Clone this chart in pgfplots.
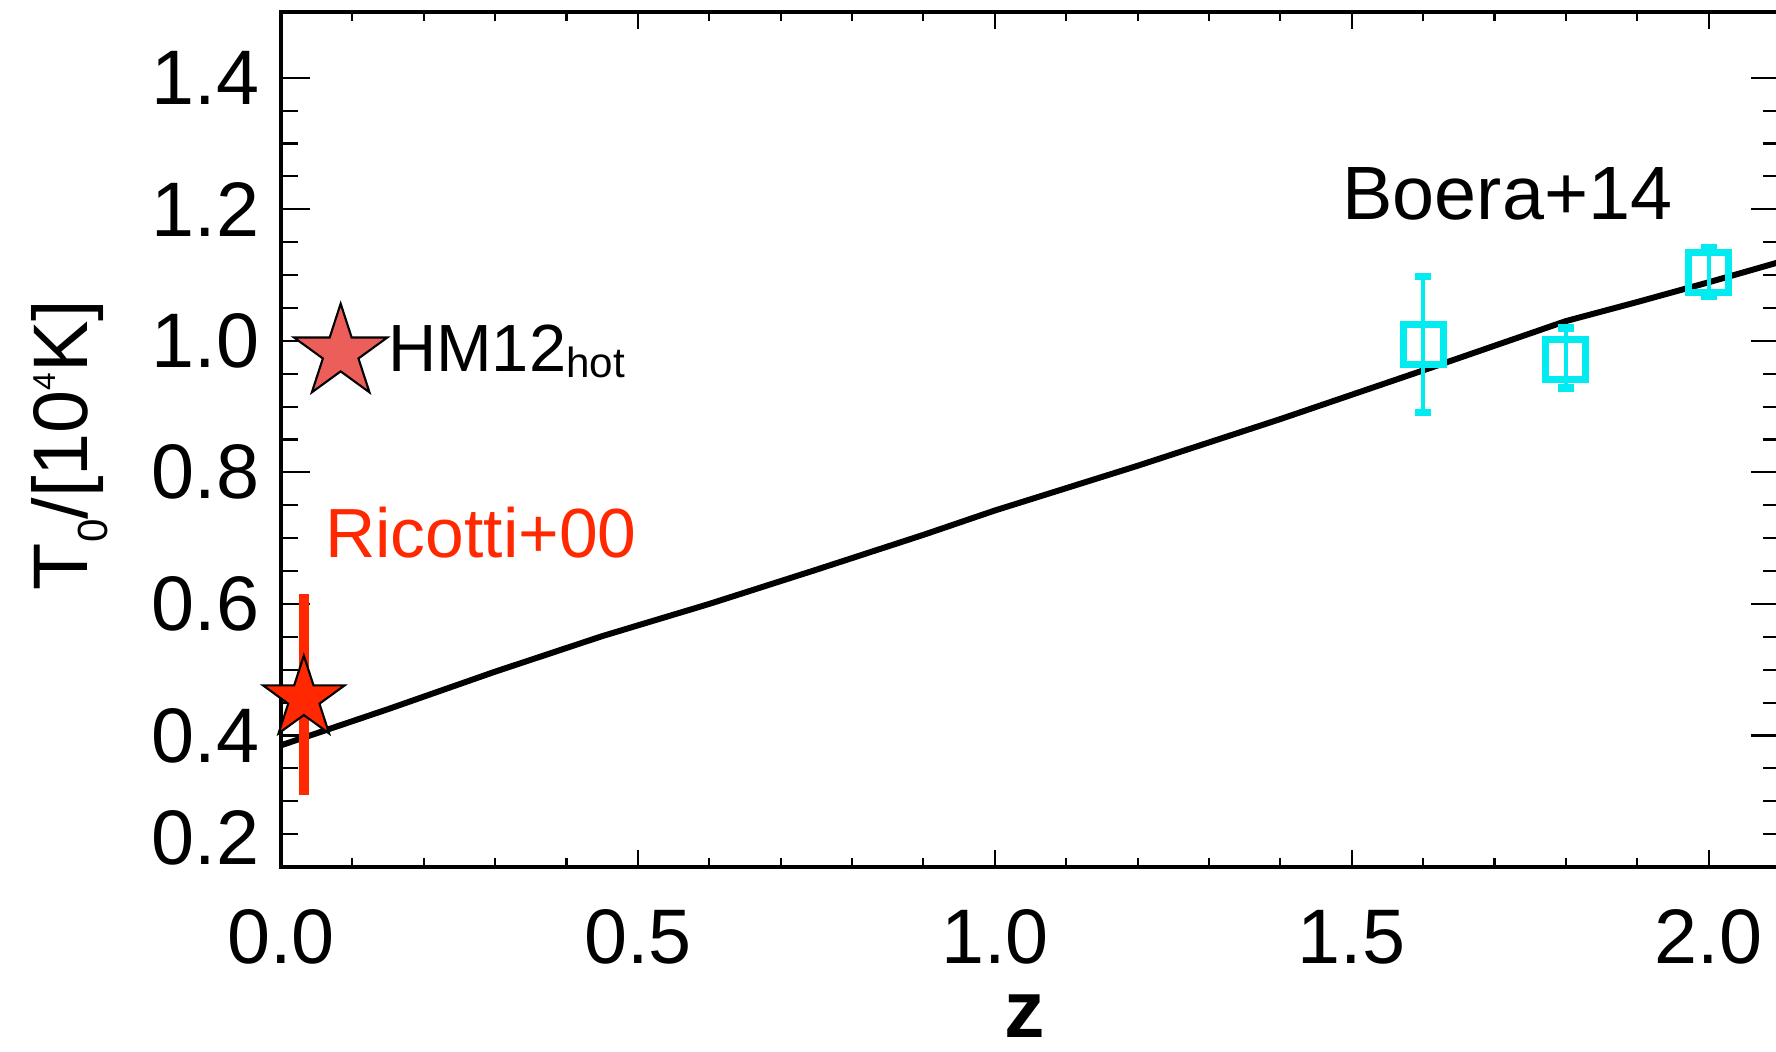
\documentclass[border=0pt]{standalone}
\usepackage{fontspec}
\setmainfont{Liberation Sans}
\usepackage{pgfplots}
\pgfplotsset{compat=1.18}

\definecolor{ricred}{RGB}{255,40,0}
\definecolor{hmred}{RGB}{235,94,90}
\definecolor{boecyan}{RGB}{0,236,240}

% filled five-pointed star, outer radius = mark size
\pgfdeclareplotmark{fstar}{%
  \pgfpathmoveto{\pgfpointpolar{90}{\pgfplotmarksize}}%
  \pgfpathlineto{\pgfpointpolar{126}{0.382\pgfplotmarksize}}%
  \pgfpathlineto{\pgfpointpolar{162}{\pgfplotmarksize}}%
  \pgfpathlineto{\pgfpointpolar{198}{0.382\pgfplotmarksize}}%
  \pgfpathlineto{\pgfpointpolar{234}{\pgfplotmarksize}}%
  \pgfpathlineto{\pgfpointpolar{270}{0.382\pgfplotmarksize}}%
  \pgfpathlineto{\pgfpointpolar{306}{\pgfplotmarksize}}%
  \pgfpathlineto{\pgfpointpolar{342}{0.382\pgfplotmarksize}}%
  \pgfpathlineto{\pgfpointpolar{18}{\pgfplotmarksize}}%
  \pgfpathlineto{\pgfpointpolar{54}{0.382\pgfplotmarksize}}%
  \pgfpathclose
  \pgfusepathqfillstroke
}

\begin{document}
\begin{tikzpicture}
\useasboundingbox (-2.81,-1.85) rectangle (14.95,8.67);
\clip (-2.81,-1.85) rectangle (14.95,8.67);
\begin{axis}[
  at={(0,0)}, anchor=south west,
  width=14.99cm, height=8.55cm, scale only axis,
  xmin=0, xmax=2.1, ymin=0.2, ymax=1.5,
  xtick={0,0.5,1,1.5,2},
  xticklabels={0.0,0.5,1.0,1.5,2.0},
  minor x tick num=4,
  ytick={0.2,0.4,0.6,0.8,1.0,1.2,1.4},
  yticklabels={\raisebox{0.02cm}[0pt][0pt]{0.2},0.4,0.6,0.8,1.0,1.2,1.4},
  minor y tick num=3,
  axis line style={line width=0.9pt},
  tick style={line width=0.6pt, black},
  major tick length=0.29cm, minor tick length=0.17cm,
  xtick style={/pgfplots/major tick length=0.17cm, /pgfplots/minor tick length=0.09cm},
  tick label style={font=\fontsize{22}{26}\selectfont, inner sep=0pt},
  xticklabel style={anchor=base, yshift=-0.97cm},
  yticklabel style={anchor=east, xshift=-0.21cm},
  xlabel={\bfseries z},
  xlabel style={at={(axis description cs:0.4963,0)}, anchor=base, yshift=-1.71cm,
    font=\fontsize{23}{27}\selectfont, inner sep=0pt},
  ylabel={T\raisebox{-0.2cm}{\fontsize{12}{14}\selectfont 0}/[10\raisebox{0.32cm}{\fontsize{9}{11}\selectfont 4}K]},
  ylabel style={at={(axis description cs:-0.1411,0.4936)}, anchor=center,
    font=\fontsize{22}{26}\selectfont, inner sep=0pt},
]
% model curve
\addplot[black, line width=1.7pt] coordinates {
  (0,0.385) (0.15,0.44) (0.3,0.497) (0.45,0.551) (0.6,0.600) (0.75,0.652)
  (0.9,0.705) (1.0,0.742) (1.2,0.810) (1.4,0.881) (1.6,0.955) (1.8,1.030)
  (1.9,1.059) (2.0,1.089) (2.1,1.12)
};
% Boera+14
\addplot[only marks, mark=square, mark size=0.2cm, boecyan,
  mark options={line width=2pt, fill=none},
  error bars/.cd, y dir=both, y explicit, error mark=|,
  error bar style={line width=1.2pt, boecyan},
  error mark options={boecyan, line width=2.2pt, mark size=0.08cm}]
  coordinates {
  (1.6,0.995) += (0,0.103) -= (0,0.104)
  (1.8,0.972) += (0,0.047) -= (0,0.044)
  (2.0,1.104) += (0,0.037) -= (0,0.036)
};
% HM12 hot
\addplot[only marks, mark=fstar, mark size=0.49cm,
  mark options={fill=hmred, draw=black, line width=0.6pt}]
  coordinates {(0.0836,0.982)};
% Ricotti+00
\addplot[only marks, mark=fstar, mark size=0.43cm,
  mark options={fill=ricred, draw=black, line width=0.6pt}]
  coordinates {(0.032,0.456)};
\addplot[ricred, line width=2.85pt] coordinates {(0.032,0.309) (0.032,0.615)};

\node[anchor=base west, inner sep=0pt, font=\fontsize{21.5}{25}\selectfont]
  at (axis cs:1.486,1.184) {Boera+14};
\node[anchor=base west, inner sep=0pt, font=\fontsize{19}{23}\selectfont]
  at (axis cs:0.149,0.953) {HM12\raisebox{-1.5pt}{\fontsize{12}{14}\selectfont hot}};
\node[anchor=base west, inner sep=0pt, text=ricred, font=\fontsize{19.8}{23}\selectfont]
  at (axis cs:0.061,0.671) {Ricotti+00};
\end{axis}
\end{tikzpicture}
\end{document}
